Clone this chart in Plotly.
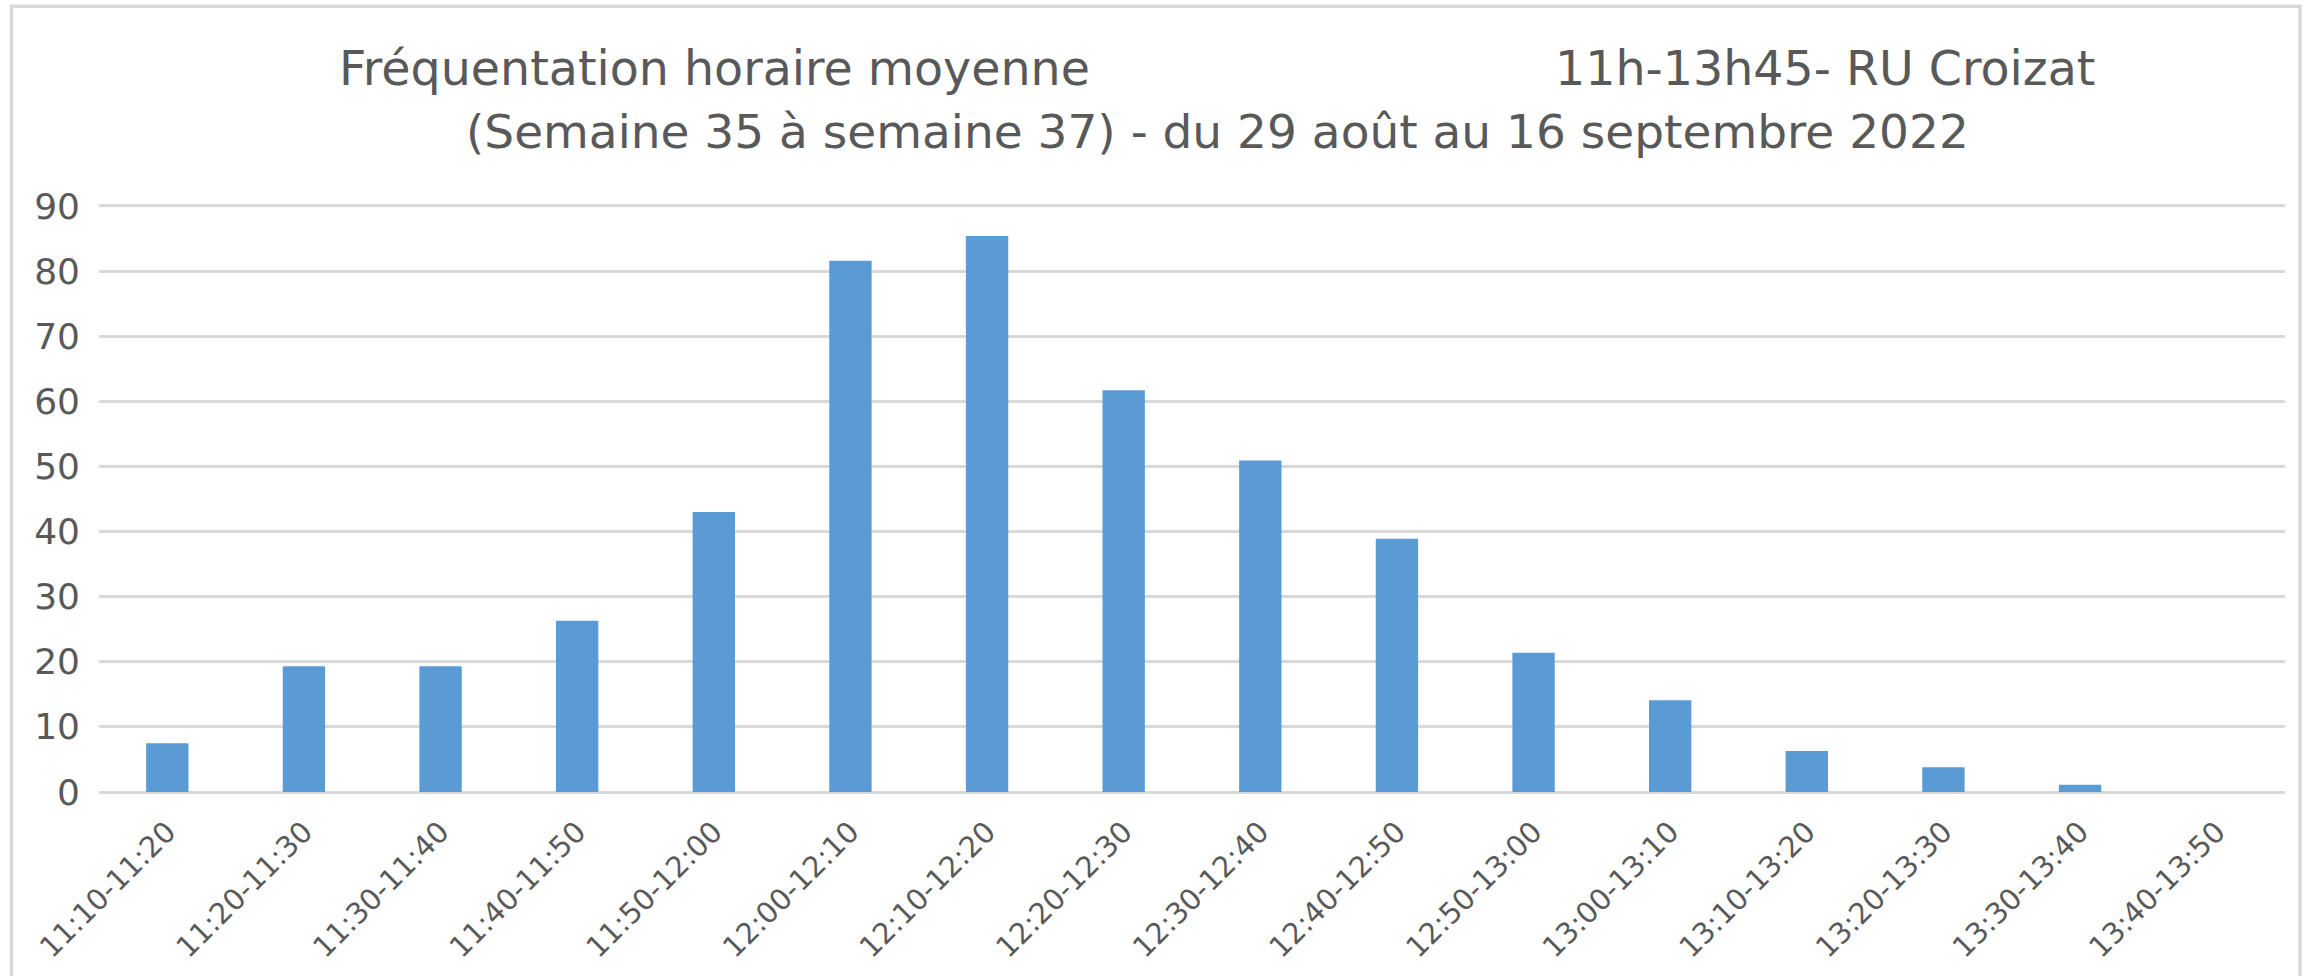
import plotly.graph_objects as go

categories = ["11:10-11:20", "11:20-11:30", "11:30-11:40", "11:40-11:50", "11:50-12:00",
              "12:00-12:10", "12:10-12:20", "12:20-12:30", "12:30-12:40", "12:40-12:50",
              "12:50-13:00", "13:00-13:10", "13:10-13:20", "13:20-13:30", "13:30-13:40",
              "13:40-13:50"]
values = [7.5, 19.3, 19.3, 26.3, 43.0, 81.6, 85.4, 61.7, 50.9, 38.9, 21.4, 14.1, 6.3, 3.8, 1.1, 0]
y_ticks = [0, 10, 20, 30, 40, 50, 60, 70, 80, 90]

title_left = "Fréquentation horaire moyenne"
title_right = "11h-13h45- RU Croizat"
title_line2 = "(Semaine 35 à semaine 37) - du 29 août au 16 septembre 2022"

FONT = "DejaVu Sans"
TEXT = "#595959"
GRID = "#D9D9D9"
BAR = "#5B9BD5"

W, H = 2316, 976
L, R, T, B = 98.5, 31, 203.5, 184
pw = W - L - R
ph = H - T - B

def px(x):
    return (x - L) / pw

def py(y):
    return (H - B - y) / ph

fig = go.Figure()
fig.add_trace(go.Bar(x=categories, y=values, marker=dict(color=BAR, line=dict(width=0)),
                     hoverinfo="x+y"))

fig.update_layout(
    width=W, height=H,
    margin=dict(l=L, r=R, t=T, b=B, autoexpand=False),
    paper_bgcolor="white", plot_bgcolor="white",
    showlegend=False,
    bargap=0.69,
    font=dict(family=FONT, color=TEXT),
    xaxis=dict(type="category", tickangle=-45, tickfont=dict(size=29, color=TEXT, family=FONT),
               showgrid=False, showline=False, ticks="", ticklabelstandoff=16, fixedrange=True),
    yaxis=dict(range=[0, 90.3], tickvals=y_ticks, tickfont=dict(size=36, color=TEXT, family=FONT),
               showgrid=True, gridcolor=GRID, gridwidth=3, zeroline=True, zerolinecolor=GRID,
               zerolinewidth=3, showline=False, ticks="", ticklabelstandoff=18, fixedrange=True),
    annotations=[
        dict(text=title_left, xref="paper", yref="paper", x=px(337), y=py(68),
             xanchor="left", yanchor="middle", showarrow=False,
             font=dict(family=FONT, size=47.5, color=TEXT)),
        dict(text=title_right, xref="paper", yref="paper", x=px(2097), y=py(68),
             xanchor="right", yanchor="middle", showarrow=False,
             font=dict(family=FONT, size=47.5, color=TEXT)),
        dict(text=title_line2, xref="paper", yref="paper", x=px(1217), y=py(131),
             xanchor="center", yanchor="middle", showarrow=False,
             font=dict(family=FONT, size=47, color=TEXT)),
    ],
    shapes=[
        dict(type="rect", xref="paper", yref="paper", x0=px(11), x1=px(2300), y0=py(1000), y1=py(5.5),
             line=dict(color=GRID, width=3.5), fillcolor="rgba(0,0,0,0)", layer="below"),
    ],
)

fig.write_html("out.html", config={"displayModeBar": False},
               post_script="document.body.style.margin='0';")
